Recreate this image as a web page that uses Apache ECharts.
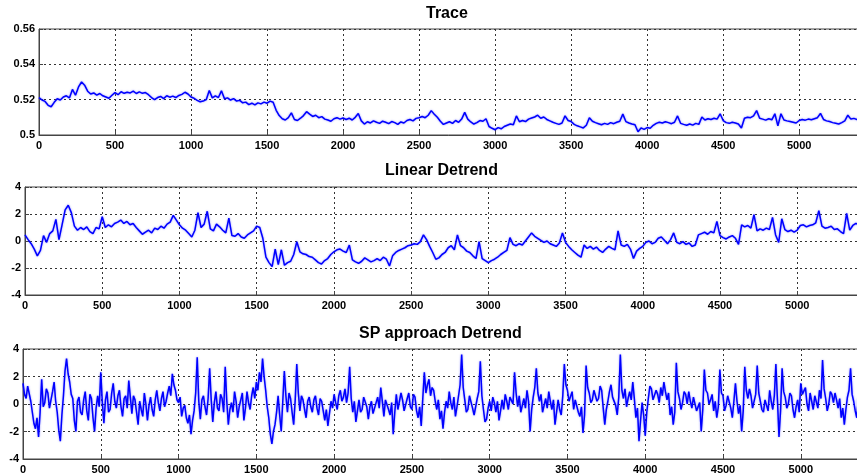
<!DOCTYPE html>
<html>
<head>
<meta charset="utf-8">
<title>Trace / Detrend</title>
<script src="https://cdn.jsdelivr.net/npm/echarts@6/dist/echarts.min.js"></script>
<style>
  html, body { margin: 0; padding: 0; background: #fff; }
  #chart { width: 857px; height: 475px; }
</style>
</head>
<body>
<div id="chart"></div>
<script>
// spacing between the samples
const step = 20;
const spStep = 10;

// raw trace, one value every 20 samples (0 .. 5400)
const traceValues = [
  0.5212, 0.5198, 0.5190, 0.5168, 0.5160,
  0.5185, 0.5205, 0.5198, 0.5215, 0.5222,
  0.5210, 0.5258, 0.5225, 0.5272, 0.5300,
  0.5282, 0.5248, 0.5232, 0.5238, 0.5226,
  0.5235, 0.5222, 0.5215, 0.5208, 0.5225,
  0.5240, 0.5228, 0.5245, 0.5236, 0.5242,
  0.5238, 0.5248, 0.5235, 0.5244, 0.5236,
  0.5240, 0.5228, 0.5212, 0.5200, 0.5212,
  0.5218, 0.5206, 0.5222, 0.5214, 0.5220,
  0.5212, 0.5224, 0.5230, 0.5242, 0.5232,
  0.5215, 0.5208, 0.5196, 0.5188, 0.5192,
  0.5200, 0.5252, 0.5210, 0.5222, 0.5212,
  0.5250, 0.5205, 0.5210, 0.5198, 0.5206,
  0.5192, 0.5196, 0.5182, 0.5186, 0.5172,
  0.5180, 0.5170, 0.5182, 0.5176, 0.5186,
  0.5180, 0.5192, 0.5185, 0.5140, 0.5110,
  0.5092, 0.5085, 0.5098, 0.5125, 0.5088,
  0.5082, 0.5095, 0.5110, 0.5132, 0.5118,
  0.5105, 0.5112, 0.5098, 0.5104, 0.5090,
  0.5085, 0.5078, 0.5092, 0.5098, 0.5090,
  0.5096, 0.5088, 0.5095, 0.5085, 0.5100,
  0.5122, 0.5080, 0.5062, 0.5075, 0.5068,
  0.5080, 0.5072, 0.5066, 0.5078, 0.5072,
  0.5064, 0.5076, 0.5070, 0.5060, 0.5074,
  0.5068, 0.5082, 0.5088, 0.5080, 0.5094,
  0.5098, 0.5105, 0.5098, 0.5112, 0.5138,
  0.5118, 0.5100, 0.5078, 0.5060, 0.5068,
  0.5075, 0.5066, 0.5082, 0.5072, 0.5090,
  0.5128, 0.5090, 0.5074, 0.5062, 0.5070,
  0.5082, 0.5078, 0.5092, 0.5048, 0.5038,
  0.5030, 0.5042, 0.5035, 0.5048, 0.5055,
  0.5062, 0.5058, 0.5108, 0.5075, 0.5082,
  0.5076, 0.5090, 0.5096, 0.5102, 0.5112,
  0.5095, 0.5102, 0.5088, 0.5080, 0.5072,
  0.5066, 0.5060, 0.5068, 0.5108, 0.5082,
  0.5076, 0.5060, 0.5052, 0.5046, 0.5040,
  0.5055, 0.5098, 0.5078, 0.5070, 0.5064,
  0.5058, 0.5066, 0.5060, 0.5070, 0.5064,
  0.5072, 0.5078, 0.5118, 0.5076, 0.5068,
  0.5062, 0.5058, 0.5018, 0.5040, 0.5032,
  0.5042, 0.5038, 0.5055, 0.5066, 0.5072,
  0.5068, 0.5075, 0.5070, 0.5064, 0.5072,
  0.5108, 0.5066, 0.5060, 0.5055, 0.5062,
  0.5056, 0.5066, 0.5060, 0.5102, 0.5085,
  0.5092, 0.5088, 0.5095, 0.5090, 0.5120,
  0.5082, 0.5070, 0.5066, 0.5072, 0.5068,
  0.5062, 0.5040, 0.5095, 0.5100, 0.5098,
  0.5108, 0.5138, 0.5095, 0.5090, 0.5084,
  0.5092, 0.5086, 0.5120, 0.5052, 0.5120,
  0.5085, 0.5080, 0.5076, 0.5072, 0.5068,
  0.5082, 0.5088, 0.5084, 0.5090, 0.5086,
  0.5092, 0.5098, 0.5122, 0.5088, 0.5080,
  0.5076, 0.5070, 0.5066, 0.5062, 0.5070,
  0.5080, 0.5112, 0.5090, 0.5094, 0.5088,
  0.5090
];

// after linear detrend, every 20 samples
const linearValues = [
  0.45, 0.10, -0.20, -0.60, -1.10,
  -0.70, 0.40, -0.10, 0.55, 0.75,
  1.60, 0.10, 1.20, 2.30, 2.65,
  2.10, 1.10, 0.80, 1.00, 0.85,
  1.05, 0.70, 0.55, 1.00, 0.90,
  1.80, 1.00, 1.20, 1.05, 1.30,
  1.40, 1.55, 1.30, 1.45, 1.20,
  1.30, 1.00, 0.75, 0.50, 0.65,
  0.80, 0.60, 0.95, 0.85, 1.10,
  0.95, 1.25, 1.40, 1.90, 1.55,
  1.20, 0.95, 0.80, 0.55, 0.30,
  0.80, 2.10, 1.00, 1.25, 2.20,
  0.90, 0.75, 1.25, 1.05, 0.80,
  0.60, 1.70, 0.40, 0.35, 0.55,
  0.30, 0.20, 0.45, 0.60, 0.75,
  1.10, 1.00, 0.20, -1.20, -1.60,
  -1.90, -0.60, -1.75, -0.65, -1.80,
  -1.60, -1.50, -1.00, -0.05, -0.80,
  -0.95, -1.00, -1.15, -1.20, -1.40,
  -1.60, -1.70, -1.45, -1.30, -1.00,
  -0.80, -0.65, -0.60, -0.75, -0.85,
  -0.30, -1.40, -1.55, -1.65, -1.50,
  -1.25, -1.40, -1.55, -1.45, -1.30,
  -1.45, -1.20, -1.35, -1.85, -1.10,
  -0.85, -0.70, -0.60, -0.50, -0.35,
  -0.30, -0.20, -0.25, -0.05, 0.45,
  0.10, -0.40, -0.85, -1.35, -1.25,
  -1.00, -0.85, -0.50, -0.35, -0.65,
  0.45, -0.35, -0.50, -0.75, -0.85,
  -1.10, -1.30, -0.05, -1.30, -1.45,
  -1.60, -1.45, -1.35, -1.20, -1.00,
  -0.85, -0.70, 0.25, -0.25, -0.35,
  -0.20, -0.30, 0.00, 0.30, 0.60,
  0.35, 0.20, 0.05, -0.10, 0.00,
  -0.20, -0.30, -0.40, -0.15, 0.60,
  -0.10, -0.40, -0.65, -0.85, -1.05,
  -1.20, -0.30, -0.55, -0.40, -0.60,
  -0.45, -0.70, -0.85, -0.60, -0.40,
  -0.55, -0.65, 0.75, -0.30, -0.40,
  -0.25, -0.60, -1.30, -0.75, -0.55,
  -0.40, -0.10, 0.00, -0.20, -0.10,
  0.20, 0.30, 0.05, -0.20, 0.10,
  0.60, -0.10, -0.20, -0.05, -0.25,
  -0.15, -0.40, -0.30, 0.45, 0.55,
  0.65, 0.50, 0.70, 0.60, 1.45,
  0.40, 0.25, 0.15, 0.30, 0.40,
  0.20, -0.25, 1.20, 1.05, 1.15,
  0.95, 1.95, 0.75, 0.90, 0.80,
  0.95, 0.85, 1.75, 0.45, -0.10,
  1.65, 0.85, 0.70, 0.80, 0.65,
  0.80, 1.15, 1.20, 1.05, 1.15,
  1.20, 1.35, 2.25, 1.10, 0.95,
  1.00, 1.10, 0.85, 0.90, 0.70,
  0.55, 2.05, 0.80, 1.15, 1.30,
  1.25
];

// after the SP approach detrend, every 10 samples (one row = 100 samples)
const spValues = [
  1.50, 0.70, 0.40, 1.30, 1.20, 0.20, -0.60, -1.40, -1.80, -1.00,
  -2.40, -0.60, 1.80, -0.20, 0.10, 1.10, 0.80, -0.30, -0.40, 0.90,
  1.60, 0.20, -0.60, -1.90, -2.70, -0.80, 0.60, 2.40, 3.30, 2.20,
  1.60, 0.70, 0.40, -1.20, -2.00, 0.20, 0.50, -0.60, -0.80, 0.30,
  0.90, -0.50, -1.20, 0.70, 0.40, -1.00, -2.00, -0.30, 0.60, -0.20,
  2.30, 0.10, -1.40, 0.30, 0.90, -0.60, -0.40, 0.80, 1.50, 0.20,
  -0.30, 0.60, 1.00, -0.20, -0.90, 0.40, 0.60, -0.30, 1.70, 0.50,
  -0.70, 0.60, 0.30, -0.60, -1.50, 0.20, -0.40, -0.90, 0.80, 0.00,
  -1.20, -0.10, 0.50, -0.40, -0.90, 0.30, 1.00, 0.10, -0.50, 0.40,
  0.90, -0.20, 0.20, 0.80, 1.30, 0.60, 2.20, 1.40, 1.00, 0.30,
  0.10, 0.50, -0.90, -0.30, -0.10, -1.00, -1.40, -0.80, -2.20, -1.20,
  -0.50, 0.80, 3.40, 0.20, -1.10, 0.30, 0.60, -0.20, -0.80, 0.40,
  2.60, 0.30, -1.30, 0.10, 0.90, -0.30, -0.50, 0.70, 0.40, -0.60,
  2.70, 0.20, -1.50, -0.40, 0.10, -0.60, 0.90, 0.20, -1.00, -0.20,
  0.30, 0.80, -1.20, -0.30, 0.90, 0.10, -0.40, 0.60, 1.20, 0.40,
  1.60, 1.00, 2.30, 1.60, 3.30, 2.00, 1.00, -0.20, -1.00, -2.20,
  -2.90, -2.00, -1.50, -0.60, 0.60, -0.80, -2.00, 0.20, 2.40, 0.60,
  -0.60, 0.80, 0.40, -0.60, -1.50, 0.30, 2.90, 0.80, -0.50, 0.60,
  0.30, -0.40, -1.00, 0.20, 0.50, -0.20, -0.60, 0.30, 0.60, -0.30,
  -0.80, 0.40, 0.20, -0.50, -1.20, -0.40, -1.60, -0.70, 0.20, -0.30,
  0.70, 0.10, -0.40, 0.60, 1.00, 0.20, 0.50, 1.10, 0.10, 0.80,
  2.70, 0.40, -0.60, 0.20, -1.30, -0.50, 0.30, -0.60, -0.40, 0.50,
  0.60, -0.20, -1.10, -0.20, 0.20, -0.70, -0.80, 0.10, 0.50, -0.30,
  1.20, 0.20, -0.90, 0.30, 0.40, -0.40, -0.80, 0.10, -2.20, -0.60,
  0.70, -0.40, -0.30, 0.80, 0.30, -0.50, -0.60, 0.40, 0.80, -0.20,
  -0.40, 0.70, 0.50, -0.50, -1.00, -0.20, -1.60, 0.40, 2.30, 0.80,
  1.40, 1.80, 0.60, 1.20, 1.00, 0.20, -0.40, 0.30, -1.10, -0.50,
  -1.80, -0.60, 0.20, -0.30, 0.90, 0.10, -0.40, 0.50, -0.90, -0.20,
  0.60, 1.40, 3.60, 1.20, 0.30, -0.60, -0.40, 0.60, 0.50, -0.30,
  -0.80, -0.20, 0.40, 0.90, 3.10, 0.60, -0.40, -1.30, -1.10, -0.30,
  0.20, -0.50, 0.50, 0.10, -0.60, 0.20, -1.20, -0.50, 0.30, -0.40,
  0.70, 0.20, -0.40, 0.50, 0.60, 0.00, 2.30, 0.80, -0.20, 0.60,
  -0.60, -0.10, 0.40, -0.30, 1.00, 0.20, -2.00, -0.40, 0.50, 1.20,
  2.60, 0.80, 0.20, 0.70, -0.60, -0.10, 0.40, -0.30, 0.90, 0.20,
  -0.40, 0.30, -1.50, -0.60, 0.30, -0.40, -0.80, 0.60, 2.90, 1.40,
  1.00, 0.20, 0.30, 0.90, -0.40, 0.30, 0.20, -0.60, -0.90, -0.20,
  -2.10, -0.80, 2.80, 1.20, 0.80, 0.10, 0.30, 1.00, 1.10, 0.20,
  0.40, 1.30, 1.00, -0.30, -1.50, -0.40, 0.20, 0.90, 1.40, 0.50,
  0.60, -0.10, -0.80, 0.50, 3.60, 1.00, 0.40, 1.10, -0.20, 0.40,
  0.90, 0.30, 1.60, 0.40, -1.00, -0.30, -2.70, -1.20, 0.10, -0.80,
  -2.30, -0.60, 0.40, 1.30, 1.10, 0.30, 0.20, 1.00, 0.70, 0.10,
  1.20, 0.60, 1.60, 0.90, 0.30, 0.80, -0.80, -0.20, -1.50, -0.60,
  3.00, 0.90, 0.40, -0.40, 0.10, 0.90, 0.70, 0.00, 0.90, 0.20,
  -0.30, 0.50, 0.40, -0.50, -0.60, 0.10, -2.00, -0.40, 2.50, 1.00,
  0.80, 0.00, 0.30, 0.70, -0.50, 0.20, -1.00, -0.20, 2.50, 0.80,
  0.60, -0.50, -0.10, 0.60, 0.50, -0.30, -1.00, 0.20, 1.50, 0.20,
  -0.70, -0.10, -2.00, -0.50, 2.70, 1.00, 0.40, 1.10, 0.60, -0.30,
  -0.20, 0.70, 2.80, 0.80, 0.20, -0.40, -0.60, 0.30, 0.40, -0.50,
  1.00, 0.20, -0.40, 0.60, 2.90, 0.30, -2.40, -0.50, 2.60, 0.90,
  0.50, -0.30, 0.00, 0.80, 0.60, -0.40, -1.00, -0.20, 0.30, -0.60,
  1.50, 0.70, 0.60, 1.20, 0.00, -0.50, 0.80, 0.20, -0.40, 0.60,
  0.50, -0.30, 1.00, 0.40, 3.20, 1.10, 0.40, -0.50, 0.00, 0.90,
  0.70, 0.10, 0.80, 0.30, -0.30, 0.40, -1.00, -0.30, -1.50, -0.40,
  0.50, 1.00, 2.60, 0.70, 0.20, -0.50, -1.00, 0.40, 0.30, -0.60,
  0.60
];

const titles = ['Trace', 'Linear Detrend', 'SP approach Detrend'];
const xMax = 5400;
const xStep = 500;

const fontFamily = '"Liberation Sans", Arial, sans-serif';
const boxColor = '#444';

// one entry per subplot (layout only); the boxes run past the right edge
const panels = [
  { values: traceValues, step: step, yMin: 0.5, yMax: 0.56, yStep: 0.02, digits: 2,
    box: { left: 39, top: 29, width: 821, height: 106 }, titleLeft: 426, titleTop: 6 },
  { values: linearValues, step: step, yMin: -4, yMax: 4, yStep: 2, digits: 0,
    box: { left: 25, top: 187, width: 834, height: 108 }, titleLeft: 385, titleTop: 163 },
  { values: spValues, step: spStep, yMin: -4, yMax: 4, yStep: 2, digits: 0,
    box: { left: 23, top: 349, width: 840, height: 110 }, titleLeft: 359, titleTop: 326 }
];

function toPoints(vals, dx) {
  return vals.map((v, i) => [i * dx, v]);
}

const labelStyle = {
  color: '#000',
  fontWeight: 'bold',
  fontSize: 11,
  fontFamily: fontFamily
};

const chart = echarts.init(document.getElementById('chart'), null, { renderer: 'canvas' });

chart.setOption({
  animation: false,
  backgroundColor: '#fff',
  title: panels.map((p, i) => ({
    text: titles[i],
    left: p.titleLeft,
    top: p.titleTop,
    padding: 0,
    textStyle: { color: '#000', fontWeight: 'bold', fontSize: 16, fontFamily: fontFamily }
  })),
  grid: panels.map(p => ({
    left: p.box.left,
    top: p.box.top,
    width: p.box.width,
    height: p.box.height,
    outerBoundsMode: 'none',
    containLabel: false,
    show: true,
    borderColor: boxColor,
    borderWidth: 1,
    backgroundColor: '#fff'
  })),
  xAxis: panels.map((p, i) => ({
    type: 'value',
    gridIndex: i,
    min: 0,
    max: xMax,
    interval: xStep,
    axisLine: { show: true, onZero: false, lineStyle: { color: boxColor } },
    axisTick: { show: true, inside: true, length: 4, lineStyle: { color: boxColor } },
    axisLabel: Object.assign({
      margin: 5,
      showMaxLabel: false,
      formatter: v => String(v)
    }, labelStyle),
    splitLine: { show: true, lineStyle: { type: [2, 3], color: '#333', width: 1 } }
  })),
  yAxis: panels.map((p, i) => ({
    type: 'value',
    gridIndex: i,
    min: p.yMin,
    max: p.yMax,
    interval: p.yStep,
    axisLine: { show: true, onZero: false, lineStyle: { color: boxColor } },
    axisTick: { show: true, inside: true, length: 4, lineStyle: { color: boxColor } },
    axisLabel: Object.assign({
      margin: 4,
      formatter: v => String(+v.toFixed(p.digits))
    }, labelStyle),
    splitLine: { show: true, lineStyle: { type: [2, 3], color: '#333', width: 1 } }
  })),
  series: panels.map((p, i) => ({
    type: 'line',
    xAxisIndex: i,
    yAxisIndex: i,
    data: toPoints(p.values, p.step),
    showSymbol: false,
    symbol: 'none',
    silent: true,
    lineStyle: {
      color: '#0000ff',
      width: 1.5,
      shadowColor: 'rgba(60, 60, 255, 0.6)',
      shadowBlur: 2
    }
  }))
});
</script>
</body>
</html>
